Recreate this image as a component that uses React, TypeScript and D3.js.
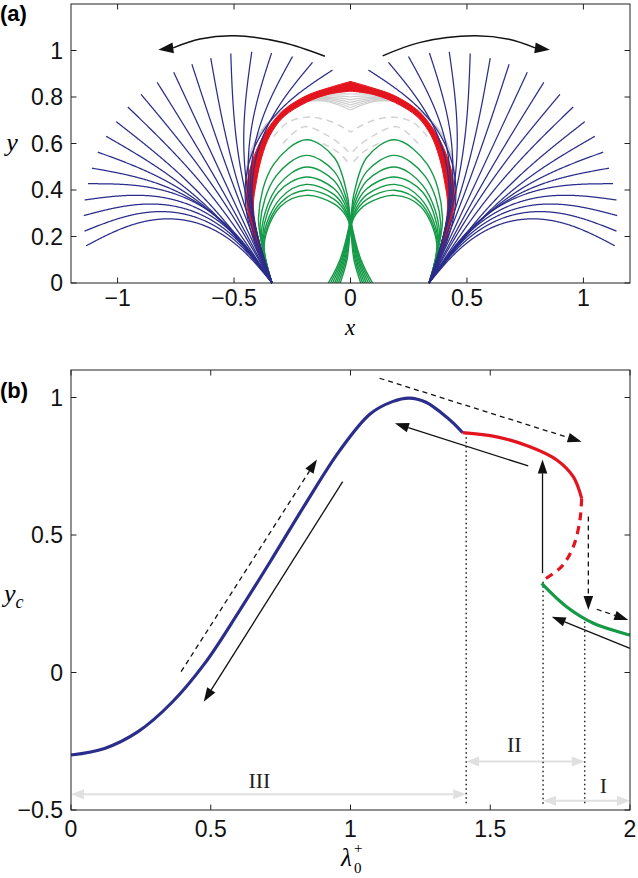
import React from "react";
import * as d3 from "d3";

// ---------------- Panel (a) data ----------------
const xTicksA = [-1, -0.5, 0, 0.5, 1];
const xTickLabelsA = ["\u22121", "\u22120.5", "0", "0.5", "1"];
const yTicksA = [0, 0.2, 0.4, 0.6, 0.8, 1];
const yTickLabelsA = ["0", "0.2", "0.4", "0.6", "0.8", "1"];

const rodBaseX = -0.337; // left clamp (mirrored on the right)
const blueTipX = [-1.135, -1.142, -1.145, -1.142, -1.127, -1.11, -1.085, -1.049, -1.006, -0.956, -0.899, -0.83, -0.759, -0.681, -0.6, -0.514, -0.424, -0.339, -0.249, -0.163, -0.077];
const blueTipY = [0.16, 0.223, 0.29, 0.357, 0.427, 0.494, 0.563, 0.631, 0.694, 0.757, 0.811, 0.863, 0.906, 0.941, 0.967, 0.987, 0.994, 0.989, 0.974, 0.949, 0.916];
const blueTipAngle = [208, 202, 195, 188, 180, 170, 160, 150, 142, 136, 130, 122, 115, 108, 100, 92, 82, 72, 61, 50, 33];

const redOuterX = [-0.337, -0.4, -0.435, -0.446, -0.439, -0.41, -0.36, -0.289, -0.189, -0.089, 0];
const redOuterY = [0, 0.15, 0.28, 0.356, 0.456, 0.556, 0.656, 0.742, 0.806, 0.841, 0.867];
const redInnerX = [-0.337, -0.39, -0.417, -0.403, -0.381, -0.346, -0.289, -0.189, -0.089, 0];
const redInnerY = [0, 0.17, 0.327, 0.441, 0.541, 0.634, 0.713, 0.777, 0.813, 0.825];

const graySideX = [-0.425, -0.447, -0.432, -0.392, -0.327, -0.226];
const graySideY = [0.32, 0.44, 0.55, 0.64, 0.715, 0.772];
const grayNearY = [0.808, 0.803, 0.798, 0.794, 0.79, 0.786, 0.782];
const grayCenterY = [0.813, 0.8, 0.788, 0.777, 0.766, 0.755, 0.744];

const dashedGray: [number, number][][] = [
  [[-0.33, 0.63], [-0.27, 0.69], [-0.19, 0.713], [-0.1, 0.7], [-0.03, 0.668], [0, 0.649]],
  [[-0.29, 0.6], [-0.2, 0.672], [-0.1, 0.635], [-0.03, 0.585], [0, 0.555]],
  [[-0.12, 0.6], [-0.05, 0.56], [0, 0.506]],
];

const greenCurves: [number, number][][] = [
  [[-0.337, 0], [-0.395, 0.28], [-0.33, 0.51], [-0.19, 0.616], [-0.07, 0.54], [-0.014, 0.38], [0, 0.275], [0.045, 0.1], [0.095, 0]],
  [[-0.337, 0], [-0.388, 0.25], [-0.32, 0.46], [-0.19, 0.549], [-0.07, 0.48], [-0.014, 0.35], [0, 0.266], [0.04, 0.1], [0.086, 0]],
  [[-0.337, 0], [-0.382, 0.22], [-0.31, 0.42], [-0.19, 0.499], [-0.07, 0.44], [-0.014, 0.33], [0, 0.258], [0.035, 0.1], [0.077, 0]],
  [[-0.337, 0], [-0.378, 0.2], [-0.31, 0.39], [-0.19, 0.456], [-0.07, 0.405], [-0.014, 0.315], [0, 0.25], [0.03, 0.1], [0.068, 0]],
  [[-0.337, 0], [-0.375, 0.19], [-0.3, 0.365], [-0.19, 0.424], [-0.07, 0.38], [-0.014, 0.3], [0, 0.242], [0.025, 0.1], [0.06, 0]],
  [[-0.337, 0], [-0.372, 0.18], [-0.3, 0.345], [-0.19, 0.399], [-0.07, 0.36], [-0.014, 0.29], [0, 0.234], [0.02, 0.1], [0.052, 0]],
  [[-0.337, 0], [-0.37, 0.17], [-0.3, 0.33], [-0.19, 0.377], [-0.07, 0.34], [-0.014, 0.28], [0, 0.226], [0.015, 0.1], [0.044, 0]],
];

const arrowLeftA: [number, number][] = [[-0.11, 0.975], [-0.29, 1.034], [-0.497, 1.063], [-0.646, 1.049], [-0.825, 1.003]];
const arrowRightA: [number, number][] = [[0.138, 0.977], [0.3, 1.035], [0.531, 1.063], [0.68, 1.048], [0.856, 1.003]];

// ---------------- Panel (b) data ----------------
const xTicksB = [0, 0.5, 1, 1.5, 2];
const xTickLabelsB = ["0", "0.5", "1", "1.5", "2"];
const yTicksB = [-0.5, 0, 0.5, 1];
const yTickLabelsB = ["\u22120.5", "0", "0.5", "1"];

const blueBX = [0, 0.12, 0.24, 0.36, 0.48, 0.6, 0.72, 0.84, 0.96, 1.07, 1.15, 1.21, 1.27, 1.33, 1.37, 1.401];
const blueBY = [-0.3, -0.276, -0.215, -0.11, 0.035, 0.22, 0.415, 0.615, 0.805, 0.94, 0.985, 0.998, 0.983, 0.94, 0.905, 0.872];
const redSolidX = [1.401, 1.523, 1.642, 1.738, 1.797, 1.827];
const redSolidY = [0.872, 0.857, 0.821, 0.773, 0.712, 0.633];
const redDashX = [1.827, 1.821, 1.797, 1.755, 1.69];
const redDashY = [0.633, 0.555, 0.457, 0.385, 0.336];
const greenBX = [1.684, 1.773, 1.869, 2.0];
const greenBY = [0.324, 0.239, 0.179, 0.136];

const dottedX = [1.414, 1.689, 1.838];
const dottedTopY = [0.872, 0.33, 0.185];

const arrowsB = [
  { x1: 0.394, y1: 0.003, x2: 0.88, y2: 0.775, dashed: true },
  { x1: 0.972, y1: 0.694, x2: 0.475, y2: -0.106, dashed: false },
  { x1: 1.104, y1: 1.07, x2: 1.827, y2: 0.839, dashed: true },
  { x1: 1.636, y1: 0.751, x2: 1.159, y2: 0.906, dashed: false },
  { x1: 1.687, y1: 0.361, x2: 1.687, y2: 0.775, dashed: false },
  { x1: 1.851, y1: 0.567, x2: 1.851, y2: 0.227, dashed: true },
  { x1: 1.881, y1: 0.23, x2: 1.994, y2: 0.191, dashed: true },
  { x1: 2.0, y1: 0.088, x2: 1.72, y2: 0.203, dashed: false },
];

const regionLabels = ["III", "II", "I"];
const regionFrom = [0, 1.414, 1.689];
const regionTo = [1.414, 1.838, 2.0];
const regionArrowY = [-0.443, -0.324, -0.466];
const regionLabelX = [0.674, 1.586, 1.905];
const regionLabelY = [-0.421, -0.289, -0.437];

// ---------------- helpers ----------------
// pinned elastica between base and tip, tip tangent given (degrees)
function elasticaLocal(alphaDeg: number): [number, number][] {
  const a = (alphaDeg * Math.PI) / 180;
  if (Math.abs(a) < 1e-3) return [[0, 0], [1, 0]];
  let phi = -a, w = 0, x = 0, y = 0;
  const ds = 0.01;
  const sgn = Math.sign(a);
  const pts: [number, number][] = [[0, 0]];
  for (let i = 0; i < 3000; i++) {
    const d = (p: number, q: number) => [q, -Math.sin(p), Math.cos(p), Math.sin(p)];
    const k1 = d(phi, w);
    const k2 = d(phi + (ds / 2) * k1[0], w + (ds / 2) * k1[1]);
    const k3 = d(phi + (ds / 2) * k2[0], w + (ds / 2) * k2[1]);
    const k4 = d(phi + ds * k3[0], w + ds * k3[1]);
    phi += (ds / 6) * (k1[0] + 2 * k2[0] + 2 * k3[0] + k4[0]);
    w += (ds / 6) * (k1[1] + 2 * k2[1] + 2 * k3[1] + k4[1]);
    x += (ds / 6) * (k1[2] + 2 * k2[2] + 2 * k3[2] + k4[2]);
    y += (ds / 6) * (k1[3] + 2 * k2[3] + 2 * k3[3] + k4[3]);
    pts.push([x, y]);
    if (i > 2 && w * sgn <= 0) break;
  }
  const [ex, ey] = pts[pts.length - 1];
  const L = Math.hypot(ex, ey), r = Math.atan2(ey, ex);
  const c = Math.cos(-r), s = Math.sin(-r);
  return pts.map(([px, py]) => [(px * c - py * s) / L, (px * s + py * c) / L]);
}

function rodPoints(bx: number, tx: number, ty: number, tipDeg: number): [number, number][] {
  const dx = tx - bx, dy = ty;
  const chi = Math.atan2(dy, dx);
  const len = Math.hypot(dx, dy);
  const alpha = tipDeg - (chi * 180) / Math.PI;
  const loc = elasticaLocal(alpha);
  const c = Math.cos(chi), s = Math.sin(chi);
  return loc.map(([lx, ly]) => [bx + len * (lx * c - ly * s), len * (lx * s + ly * c)]);
}

function head(x: number, y: number, ang: number, len = 12, hw = 4.5) {
  const bx = x - len * Math.cos(ang), by = y - len * Math.sin(ang);
  const px = -Math.sin(ang) * hw, py = Math.cos(ang) * hw;
  return { pts: `${x},${y} ${bx + px},${by + py} ${bx - px},${by - py}`, bx, by };
}

const mirror = (pts: [number, number][]) => pts.map(([x, y]) => [-x, y] as [number, number]);
const zip = (xs: number[], ys: number[]) => xs.map((x, i) => [x, ys[i]] as [number, number]);

const SANS = "'Liberation Sans', Arial, Helvetica, sans-serif";
const SERIF = "'Liberation Serif', 'Times New Roman', serif";
const BLUE = "#2b2d8a";
const RED = "#e3141d";
const GREEN = "#149a47";

export default function App() {
  const xa = d3.scaleLinear().domain([-1.2, 1.2]).range([71, 630]);
  const ya = d3.scaleLinear().domain([0, 1.2]).range([283, 4]);
  const xb = d3.scaleLinear().domain([0, 2]).range([71, 630]);
  const yb = d3.scaleLinear().domain([-0.5, 1.1]).range([810, 370]);

  const linA = d3.line<[number, number]>().x((d) => xa(d[0])).y((d) => ya(d[1]));
  const smA = d3.line<[number, number]>().x((d) => xa(d[0])).y((d) => ya(d[1])).curve(d3.curveCatmullRom.alpha(0.5));
  const smB = d3.line<[number, number]>().x((d) => xb(d[0])).y((d) => yb(d[1])).curve(d3.curveCatmullRom.alpha(0.5));

  const blueLeft = blueTipX.map((tx, i) => rodPoints(rodBaseX, tx, blueTipY[i], blueTipAngle[i]));
  const blueAll = [...blueLeft, ...blueLeft.map(mirror)];

  const outerL = zip(redOuterX, redOuterY);
  const innerL = zip(redInnerX, redInnerY);
  const bandPath = (o: [number, number][], inn: [number, number][]) =>
    (smA(o) as string) + (smA([...inn].reverse()) as string).replace(/^M/, "L") + "Z";

  const grayLeft = grayCenterY.map((cy, i) => [
    ...zip(graySideX, graySideY),
    [-0.11, grayNearY[i]] as [number, number],
    [0, cy] as [number, number],
  ]);

  const ticksA = (
    <g stroke="#222" strokeWidth={1}>
      {xTicksA.map((t) => (
        <g key={"xa" + t}>
          <line x1={xa(t)} x2={xa(t)} y1={283} y2={277.5} />
          <line x1={xa(t)} x2={xa(t)} y1={4} y2={9.5} />
        </g>
      ))}
      {yTicksA.map((t) => (
        <g key={"ya" + t}>
          <line x1={71} x2={76.5} y1={ya(t)} y2={ya(t)} />
          <line x1={630} x2={624.5} y1={ya(t)} y2={ya(t)} />
        </g>
      ))}
    </g>
  );

  const ticksB = (
    <g stroke="#222" strokeWidth={1}>
      {xTicksB.map((t) => (
        <g key={"xb" + t}>
          <line x1={xb(t)} x2={xb(t)} y1={810} y2={804.5} />
          <line x1={xb(t)} x2={xb(t)} y1={370} y2={375.5} />
        </g>
      ))}
      {yTicksB.map((t) => (
        <g key={"yb" + t}>
          <line x1={71} x2={76.5} y1={yb(t)} y2={yb(t)} />
          <line x1={630} x2={624.5} y1={yb(t)} y2={yb(t)} />
        </g>
      ))}
    </g>
  );

  const curvedArrow = (pts: [number, number][], key: string) => {
    const n = pts.length;
    const tx = xa(pts[n - 1][0]), ty = ya(pts[n - 1][1]);
    const px = xa(pts[n - 2][0]), py = ya(pts[n - 2][1]);
    const ang = Math.atan2(ty - py, tx - px) + (pts[n - 1][0] < 0 ? 0.12 : -0.12);
    const h = head(tx, ty, ang, 15, 5.5);
    const inv: [number, number] = [xa.invert(h.bx), ya.invert(h.by)];
    return (
      <g key={key}>
        <path d={smA([...pts.slice(0, n - 1), inv]) as string} fill="none" stroke="#111" strokeWidth={1.5} />
        <polygon points={h.pts} fill="#111" />
      </g>
    );
  };

  return (
    <svg width={638} height={878} style={{ position: "absolute", left: 0, top: 0, background: "#fff" }}>
      <rect x={0} y={0} width={638} height={878} fill="#fff" />
      {/* ---------- Panel (a) ---------- */}
      <g fill="none">
        {dashedGray.map((c, i) => (
          <g key={"dg" + i}>
            <path d={smA(c) as string} stroke="#d4d4d4" strokeWidth={1.6} strokeDasharray="7 5" />
            <path d={smA(mirror(c)) as string} stroke="#d4d4d4" strokeWidth={1.6} strokeDasharray="7 5" />
          </g>
        ))}
        {grayLeft.map((c, i) => (
          <g key={"gs" + i}>
            <path d={smA(c) as string} stroke="#cfcfcf" strokeWidth={1.2} />
            <path d={smA(mirror(c)) as string} stroke="#cfcfcf" strokeWidth={1.2} />
          </g>
        ))}
      </g>
      <path d={bandPath(outerL, innerL)} fill={RED} stroke={RED} strokeWidth={1} />
      <path d={bandPath(mirror(outerL), mirror(innerL))} fill={RED} stroke={RED} strokeWidth={1} />
      <g fill="none" stroke={GREEN} strokeWidth={1.4}>
        {greenCurves.map((c, i) => (
          <g key={"gr" + i}>
            <path d={smA(c) as string} />
            <path d={smA(mirror(c)) as string} />
          </g>
        ))}
      </g>
      <g fill="none" stroke={BLUE} strokeWidth={1.25}>
        {blueAll.map((c, i) => (
          <path key={"bl" + i} d={linA(c) as string} />
        ))}
      </g>
      {curvedArrow(arrowLeftA, "al")}
      {curvedArrow(arrowRightA, "ar")}
      <rect x={71} y={4} width={559} height={279} fill="none" stroke="#222" strokeWidth={1} />
      {ticksA}
      <g fontFamily={SANS} fontSize={23} fill="#111">
        {xTicksA.map((t, i) => (
          <text key={"xla" + t} x={xa(t)} y={306} textAnchor="middle">{xTickLabelsA[i]}</text>
        ))}
        {yTicksA.map((t, i) => (
          <text key={"yla" + t} x={63} y={ya(t) + 8.3} textAnchor="end">{yTickLabelsA[i]}</text>
        ))}
      </g>
      <text x={350} y={335} fontFamily={SERIF} fontStyle="italic" fontSize={23} textAnchor="middle">x</text>
      <text x={12} y={151} fontFamily={SERIF} fontStyle="italic" fontSize={26} textAnchor="middle">y</text>
      <text x={0} y={21} fontFamily={SANS} fontWeight="bold" fontSize={22}>(a)</text>

      {/* ---------- Panel (b) ---------- */}
      <g stroke="#e0e0e0" fill="#e0e0e0">
        {regionLabels.map((lab, i) => {
          const y = yb(regionArrowY[i]);
          const x1 = xb(regionFrom[i]), x2 = xb(regionTo[i]);
          const hR = head(x2, y, 0, 13, 5);
          const hL = head(x1, y, Math.PI, 13, 5);
          return (
            <g key={"reg" + i}>
              <line x1={hL.bx} x2={hR.bx} y1={y} y2={y} strokeWidth={2} />
              <polygon points={hR.pts} stroke="none" />
              <polygon points={hL.pts} stroke="none" />
            </g>
          );
        })}
      </g>
      <g fontFamily={SERIF} fontSize={22} fill="#222" textAnchor="middle">
        {regionLabels.map((lab, i) => (
          <text key={"rl" + i} x={xb(regionLabelX[i])} y={yb(regionLabelY[i])}>{lab}</text>
        ))}
      </g>
      <g stroke="#222" strokeWidth={1.5} strokeDasharray="1.5 3">
        {dottedX.map((x, i) => (
          <line key={"dot" + i} x1={xb(x)} x2={xb(x)} y1={yb(dottedTopY[i])} y2={806} />
        ))}
      </g>
      <g fill="none" strokeWidth={3.2}>
        <path d={smB(zip(blueBX, blueBY)) as string} stroke={BLUE} />
        <path d={smB(zip(redSolidX, redSolidY)) as string} stroke={RED} />
        <path d={smB(zip(redDashX, redDashY)) as string} stroke={RED} strokeDasharray="8 6" />
        <path d={smB(zip(greenBX, greenBY)) as string} stroke={GREEN} />
      </g>
      {arrowsB.map((a, i) => {
        const x1 = xb(a.x1), y1 = yb(a.y1), x2 = xb(a.x2), y2 = yb(a.y2);
        const ang = Math.atan2(y2 - y1, x2 - x1);
        const h = head(x2, y2, ang, 14, 4.8);
        return (
          <g key={"ab" + i}>
            <line x1={x1} y1={y1} x2={h.bx} y2={h.by} stroke="#111" strokeWidth={1.3} strokeDasharray={a.dashed ? "5 4" : undefined} />
            <polygon points={h.pts} fill="#111" />
          </g>
        );
      })}
      <rect x={71} y={370} width={559} height={440} fill="none" stroke="#222" strokeWidth={1} />
      {ticksB}
      <g fontFamily={SANS} fontSize={23} fill="#111">
        {xTicksB.map((t, i) => (
          <text key={"xlb" + t} x={xb(t)} y={837} textAnchor="middle">{xTickLabelsB[i]}</text>
        ))}
        {yTicksB.map((t, i) => (
          <text key={"ylb" + t} x={63} y={yb(t) + 8.3} textAnchor="end">{yTickLabelsB[i]}</text>
        ))}
      </g>
      <text x={4} y={602} fontFamily={SERIF} fontStyle="italic" fontSize={26}>
        y<tspan fontSize={18} dy={6}>c</tspan>
      </text>
      <text x={341} y={866} fontFamily={SERIF} fontStyle="italic" fontSize={25}>λ</text>
      <text x={354} y={873} fontFamily={SERIF} fontSize={15}>0</text>
      <text x={354} y={853} fontFamily={SERIF} fontSize={15}>+</text>
      <text x={0} y={398} fontFamily={SANS} fontWeight="bold" fontSize={22}>(b)</text>
    </svg>
  );
}
